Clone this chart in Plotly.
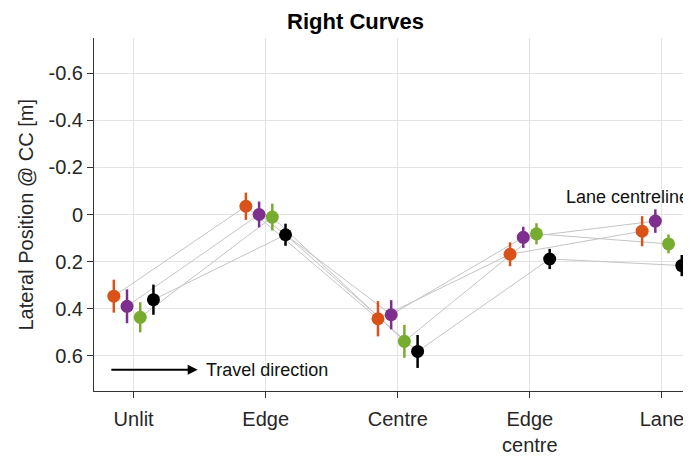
import plotly.graph_objects as go

categories = ["Unlit", "Edge", "Centre", "Edge<br>centre", "Lane"]
series_names = ["Orange", "Purple", "Green", "Black"]
orange_vals = [0.347, -0.035, 0.443, 0.169, 0.071]
orange_err = [0.070, 0.058, 0.075, 0.051, 0.064]
purple_vals = [0.390, 0.000, 0.426, 0.097, 0.028]
purple_err = [0.072, 0.055, 0.062, 0.045, 0.050]
green_vals = [0.437, 0.011, 0.539, 0.082, 0.125]
green_err = [0.064, 0.057, 0.070, 0.045, 0.040]
black_vals = [0.362, 0.086, 0.582, 0.189, 0.217]
black_err = [0.064, 0.047, 0.070, 0.043, 0.045]
y_ticks = [-0.6, -0.4, -0.2, 0, 0.2, 0.4, 0.6]
y_tick_labels = ["-0.6", "-0.4", "-0.2", "0", "0.2", "0.4", "0.6"]

colors = ["#D95319", "#7E2F8E", "#77AC30", "#000000"]
offsets = [-0.15, -0.05, 0.05, 0.15]
vals = [orange_vals, purple_vals, green_vals, black_vals]
errs = [orange_err, purple_err, green_err, black_err]

fig = go.Figure()
idx = list(range(len(categories)))

# connecting lines
for v, off in zip(vals, offsets):
    fig.add_trace(go.Scatter(x=[i + off for i in idx], y=v, mode="lines",
                             line=dict(color="#c4c4c4", width=1), showlegend=False,
                             hoverinfo="skip"))

for name, v, e, c, off in zip(series_names, vals, errs, colors, offsets):
    fig.add_trace(go.Scatter(
        x=[i + off for i in idx], y=v, mode="markers", name=name,
        marker=dict(color=c, size=13, line=dict(width=0)),
        error_y=dict(type="data", array=e, visible=True, color=c, thickness=2.5, width=0),
        cliponaxis=False, showlegend=False))

font = "Liberation Sans, Arial, sans-serif"
fig.add_shape(type="line", xref="paper", x0=0, x1=1, yref="y", y0=0, y1=0,
              line=dict(color="#555555", width=1), layer="below")

fig.add_annotation(x=3.26, y=-0.075, xref="x", yref="y", text="Lane centreline",
                   showarrow=False, xanchor="left", yanchor="middle",
                   font=dict(family=font, size=18, color="#111111"))
fig.add_annotation(x=0.485, y=0.66, ax=-0.18, ay=0.66, xref="x", yref="y",
                   axref="x", ayref="y", text="", showarrow=True, arrowhead=2,
                   arrowsize=1, arrowwidth=2, arrowcolor="#000000")
fig.add_annotation(x=0.53, y=0.66, xref="x", yref="y", text="Travel direction",
                   showarrow=False, xanchor="left", yanchor="middle",
                   font=dict(family=font, size=18, color="#111111"))
fig.add_annotation(x=0, y=0.5, xref="paper", yref="paper", xshift=-69,
                   text="Lateral Position @ CC [m]", textangle=-90, showarrow=False,
                   xanchor="center", yanchor="middle",
                   font=dict(family=font, size=20, color="#262626"))

fig.update_layout(
    width=683, height=448,
    margin=dict(l=86, r=0, t=30, b=65),
    paper_bgcolor="white", plot_bgcolor="white",
    font=dict(family=font, size=20, color="#262626"),
    title=dict(text="<b>Right Curves</b>", x=(2 + 0.3) / 4.52, xanchor="center",
               y=1 - 13 / 448, yanchor="middle",
               font=dict(family=font, size=22, color="#000000")),
    xaxis=dict(range=[-0.3, 4.22], tickvals=idx, ticktext=categories,
               automargin=False, ticklabelstandoff=4,
               showgrid=True, gridcolor="#e3e3e3", gridwidth=1, zeroline=False,
               showline=True, linecolor="#333333", linewidth=1,
               ticks="outside", ticklen=6, tickcolor="#333333",
               tickfont=dict(size=20, color="#262626")),
    yaxis=dict(range=[0.75, -0.75], tickvals=y_ticks, ticktext=y_tick_labels,
               automargin=False,
               showgrid=True, gridcolor="#e3e3e3", gridwidth=1, zeroline=False,
               showline=True, linecolor="#333333", linewidth=1,
               ticks="outside", ticklen=6, tickcolor="#333333",
               tickfont=dict(size=20, color="#262626")),
)

fig.write_html("out.html")
